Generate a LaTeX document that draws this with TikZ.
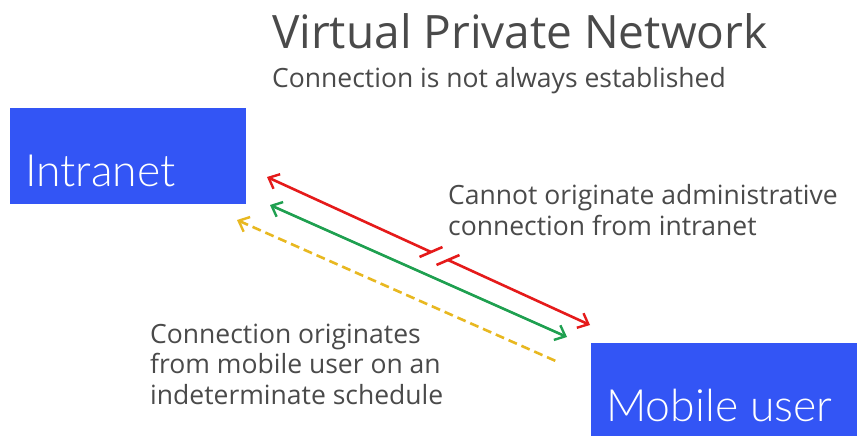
\documentclass[tikz,border=0pt]{standalone}
\usepackage{fontspec}
\setmainfont{Open Sans}
\newfontfamily\boxfont{Lato Light}
\usetikzlibrary{arrows.meta,calc}
\definecolor{boxblue}{HTML}{3355F5}
\definecolor{textgray}{HTML}{4A4A4A}
\definecolor{linkred}{HTML}{E51A1A}
\definecolor{linkgreen}{HTML}{1FA050}
\definecolor{linkgold}{HTML}{E8B820}
\tikzset{
  site/.style={fill=boxblue, draw=none, inner sep=0pt, text=white,
    font=\boxfont\fontsize{44.5}{48}\selectfont},
  note/.style={text=textgray, align=left, inner sep=0pt, anchor=base west,
    font=\fontsize{26.5}{30.5}\selectfont},
  link/.style={line width=2.6pt},
  barb/.tip={Straight Barb[length=9pt,width=16pt,line width=2.4pt]}
}
\begin{document}
\begin{tikzpicture}[x=1pt,y=-1pt]
  \path[use as bounding box, fill=white] (0,0) rectangle (857,436);

  % Title and subtitle
  \node[text=textgray, anchor=base west, inner sep=0pt,
        font=\fontsize{46}{50}\selectfont] (title) at (272,49) {Virtual Private Network};
  \node[text=textgray, anchor=base west, inner sep=0pt,
        font=\fontsize{26.5}{30}\selectfont] (subtitle) at (272,88) {Connection is not always established};

  % Endpoints
  \path[fill=boxblue] (10,108) rectangle (246,204);
  \node[site, anchor=base west] (intranet) at (25,186) {Intranet};
  \path[fill=boxblue] (591,343) rectangle (857,436);
  \node[site, anchor=base west] (mobile) at (606,421) {Mobile user};

  % Arrow end points
  \coordinate (rA) at (267,177);
  \coordinate (rB) at (590,325);
  \coordinate (rm1) at (431,252);
  \coordinate (rm2) at (448,260);
  \coordinate (gA) at (270,205);
  \coordinate (gB) at (567,337);
  \coordinate (yA) at (237,220);
  \coordinate (yB) at (558,362);

  % Red link: broken in the middle, each end capped by a slanted bar
  \draw[link, linkred, {barb}-] (rA) -- (rm1);
  \draw[link, linkred, -{barb}] (rm2) -- (rB);
  \draw[link, linkred] ($(rm1)!12.5pt!48:(rA)$) -- ($(rm1)!12.5pt!228:(rA)$);
  \draw[link, linkred] ($(rm2)!12.5pt!48:(rB)$) -- ($(rm2)!12.5pt!228:(rB)$);

  % Green link
  \draw[link, linkgreen, {barb}-{barb}] (gA) -- (gB);

  % Gold dashed link
  \draw[link, linkgold, dash pattern=on 9pt off 5pt, {barb}-] (yA) -- (yB);

  % Labels (base anchor sits on the last line)
  \node[note] (cannot) at (448,235) {Cannot originate administrative\\connection from intranet};
  \node[note] (origin) at (150,404) {Connection originates\\from mobile user on an\\indeterminate schedule};
\end{tikzpicture}
\end{document}
